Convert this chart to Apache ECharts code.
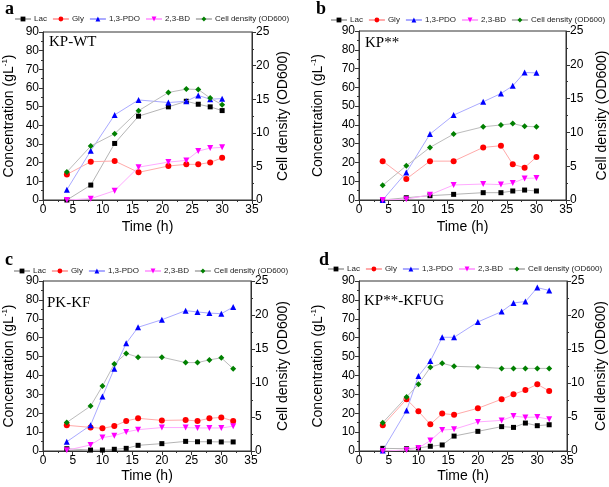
<!DOCTYPE html>
<html><head><meta charset="utf-8">
<script src="https://cdn.jsdelivr.net/npm/echarts@6/dist/echarts.min.js"></script>
<style>html,body{margin:0;padding:0;background:#fff}#c{width:609px;height:487px}</style>
</head><body><div id="c"></div>
<script>
// ---- data ----
const seriesNames = ['Lac', 'Gly', '1,3-PDO', '2,3-BD', 'Cell density (OD600)'];
const panelLetters = ['a', 'b', 'c', 'd'];
const strainLabels = ['KP-WT', 'KP**', 'PK-KF', 'KP**-KFUG'];
const xTicks = [0, 5, 10, 15, 20, 25, 30, 35];
const concTicks = [0, 10, 20, 30, 40, 50, 60, 70, 80, 90];
const odTicks = [0, 5, 10, 15, 20, 25];

// panel a
const timeA = [4, 8, 12, 16, 21, 24, 26, 28, 30];
const lacA  = [0, 8.0, 30.3, 44.9, 49.9, 52.9, 51.3, 49.9, 47.9];
const glyA  = [13.7, 20.5, 20.9, 14.8, 18.2, 19.1, 19.1, 20.1, 22.6];
const pdoA  = [5.5, 26.4, 45.6, 53.6, 52.2, 52.9, 56.0, 54.0, 54.3];
const bdA   = [0, 0.7, 5.0, 17.6, 20.3, 21.2, 26.2, 27.8, 28.2];
const odA   = [4.17, 8.03, 9.86, 13.28, 16.0, 16.5, 16.45, 15.17, 14.17];
// panel b
const timeB = [4, 8, 12, 16, 21, 24, 26, 28, 30];
const lacB  = [0, 1.2, 2.3, 3.0, 3.9, 3.9, 4.8, 5.3, 4.8];
const glyB  = [20.7, 11.2, 20.7, 20.7, 28.0, 28.9, 19.0, 17.2, 22.9];
const pdoB  = [0, 14.7, 35.1, 45.2, 52.3, 56.7, 60.8, 67.9, 67.7];
const bdB   = [0, 0.4, 2.8, 8.0, 8.5, 8.2, 9.0, 11.5, 11.7];
const odB   = [2.17, 5.06, 7.78, 9.75, 10.83, 11.1, 11.3, 10.9, 10.83];
// panel c
const timeC = [4, 8, 10, 12, 14, 16, 20, 24, 26, 28, 30, 32];
const lacC  = [1.2, 0.5, 0.5, 0.9, 1.4, 3.0, 3.9, 5.1, 4.9, 4.9, 4.8, 4.8];
const glyC  = [13.6, 12.5, 12.0, 13.2, 15.9, 17.3, 16.2, 16.4, 15.9, 17.3, 17.8, 15.9];
const pdoC  = [4.9, 13.6, 28.8, 43.6, 57.0, 65.5, 69.5, 74.3, 73.6, 73.0, 72.7, 76.2];
const bdC   = [0.4, 3.2, 7.1, 8.1, 10.1, 11.3, 12.4, 12.4, 12.2, 12.2, 12.2, 13.1];
const odC   = [4.2, 6.6, 9.55, 12.8, 14.35, 13.8, 13.8, 13.0, 13.0, 13.4, 13.7, 12.1];
// panel d
const timeD = [4, 8, 10, 12, 14, 16, 20, 24, 26, 28, 30, 32];
const lacD  = [1.4, 1.2, 1.6, 2.5, 3.2, 7.9, 10.4, 12.9, 12.5, 14.8, 13.4, 13.9];
const glyD  = [13.6, 27.4, 21.0, 14.1, 19.8, 19.2, 22.6, 27.4, 30.0, 32.3, 35.3, 31.8];
const pdoD  = [0.3, 21.4, 39.7, 47.6, 60.2, 60.2, 68.3, 73.8, 78.4, 79.1, 86.5, 85.0];
const bdD   = [0, 0.5, 1.6, 5.5, 11.1, 11.5, 15.4, 16.2, 18.5, 17.8, 18.0, 16.8];
const odD   = [4.17, 7.94, 9.8, 12.3, 12.9, 12.45, 12.35, 12.15, 12.15, 12.15, 12.15, 12.15];

const panels = [
  {t: timeA, s: [lacA, glyA, pdoA, bdA, odA]},
  {t: timeB, s: [lacB, glyB, pdoB, bdB, odB]},
  {t: timeC, s: [lacC, glyC, pdoC, bdC, odC]},
  {t: timeD, s: [lacD, glyD, pdoD, bdD, odD]}
];

// ---- layout / style ----
const grids = [
  {left: 43, top: 32, width: 209, height: 168},
  {left: 359, top: 31, width: 207, height: 169},
  {left: 43, top: 281, width: 208, height: 170},
  {left: 359, top: 281, width: 208, height: 170}
];
const leftGap = [26, 33, 26, 33];
const rightGap = [24, 29, 25, 27];
const bottomGap = [20, 20, 18, 18];
const legendPos = [{left: 14, top: 15}, {left: 330, top: 16}, {left: 13, top: 267}, {left: 327, top: 265}];
const letterPos = [[5, 0], [316, 0], [5, 251], [319, 251]];
const strainPos = [[49, 35], [365, 36], [47, 296], [364, 294]];

const markerColor = ['#000000', '#ff0000', '#0000ff', '#ff00ff', '#008000'];
const lineColor = ['#b4b4b4', '#ffaaaa', '#aaaaff', '#ffaaff', '#bcbcbc'];
const symbols = ['rect', 'circle', 'triangle', 'triangle', 'diamond'];
const symRot = [0, 0, 0, 180, 0];
const symSize = [5, 6, 6, 6, 6];
const font = 'Liberation Sans, Arial, sans-serif';
const axisCol = '#333';

const option = {
  animation: false,
  backgroundColor: '#fff',
  grid: [], xAxis: [], yAxis: [], series: [], legend: [], title: []
};

panels.forEach((p, i) => {
  option.grid.push(Object.assign({show: true, borderColor: axisCol, borderWidth: 1, backgroundColor: 'transparent', containLabel: false, outerBoundsMode: 'none'}, grids[i]));
  option.xAxis.push({
    type: 'value', gridIndex: i, min: xTicks[0], max: xTicks[xTicks.length - 1], interval: 5,
    name: 'Time (h)', nameLocation: 'middle', nameGap: bottomGap[i],
    nameTextStyle: {fontFamily: font, fontSize: 14, color: '#000'},
    axisLine: {show: true, onZero: false, lineStyle: {color: axisCol}},
    axisTick: {show: true, inside: false, length: 4, lineStyle: {color: axisCol}},
    minorTick: {show: true, splitNumber: 2, length: 2, lineStyle: {color: axisCol}},
    axisLabel: {fontFamily: font, fontSize: 12, color: '#000', margin: 4},
    splitLine: {show: false}
  });
  option.yAxis.push({
    type: 'value', gridIndex: i, position: 'left', min: 0, max: 90, interval: 10,
    name: '{a|Concentration (gL}{s|-1}{a|)}', nameLocation: 'middle', nameGap: leftGap[i], nameRotate: 90,
    nameTextStyle: {rich: {a: {fontFamily: font, fontSize: 14, color: '#000'}, s: {fontFamily: font, fontSize: 8, color: '#000', verticalAlign: 'top', padding: [0, 0, 8, 0]}}},
    axisLine: {show: true, lineStyle: {color: axisCol}},
    axisTick: {show: true, length: 4, lineStyle: {color: axisCol}},
    minorTick: {show: true, splitNumber: 2, length: 2, lineStyle: {color: axisCol}},
    axisLabel: {fontFamily: font, fontSize: 12, color: '#000', margin: 4},
    splitLine: {show: false}
  });
  option.yAxis.push({
    type: 'value', gridIndex: i, position: 'right', min: 0, max: 25, interval: 5,
    name: 'Cell density (OD600)', nameLocation: 'middle', nameGap: rightGap[i], nameRotate: 90,
    nameTextStyle: {fontFamily: font, fontSize: 14, color: '#000'},
    axisLine: {show: true, lineStyle: {color: axisCol}},
    axisTick: {show: true, length: 4, lineStyle: {color: axisCol}},
    minorTick: {show: true, splitNumber: 2, length: 2, lineStyle: {color: axisCol}},
    axisLabel: {fontFamily: font, fontSize: 12, color: '#000', margin: 4},
    splitLine: {show: false}
  });
  p.s.forEach((vals, k) => {
    option.series.push({
      name: seriesNames[k], type: 'line', xAxisIndex: i, yAxisIndex: k === 4 ? 2 * i + 1 : 2 * i,
      data: p.t.map((t, j) => [t, vals[j]]),
      symbol: symbols[k], symbolRotate: symRot[k], symbolSize: symSize[k], showSymbol: true,
      itemStyle: {color: markerColor[k]},
      lineStyle: {color: lineColor[k], width: 1},
      z: 2 + k
    });
  });
  option.legend.push(Object.assign({
    data: seriesNames, orient: 'horizontal', itemWidth: 16, itemHeight: 6, itemGap: 5,
    textStyle: {fontFamily: font, fontSize: 8, color: '#222', padding: [0, 0, 0, -2]},
    selectedMode: false, padding: 0
  }, legendPos[i]));
  option.title.push({
    text: panelLetters[i], left: letterPos[i][0], top: letterPos[i][1], padding: 0,
    textStyle: {fontFamily: 'Liberation Serif, Times New Roman, serif', fontWeight: 'bold', fontSize: 18, color: '#000'}
  });
  option.title.push({
    text: strainLabels[i], left: strainPos[i][0], top: strainPos[i][1], padding: 0,
    textStyle: {fontFamily: 'Liberation Serif, Times New Roman, serif', fontWeight: 'normal', fontSize: 15, color: '#000'}
  });
});

const chart = echarts.init(document.getElementById('c'), null, {renderer: 'canvas'});
chart.setOption(option);
</script>
</body></html>
